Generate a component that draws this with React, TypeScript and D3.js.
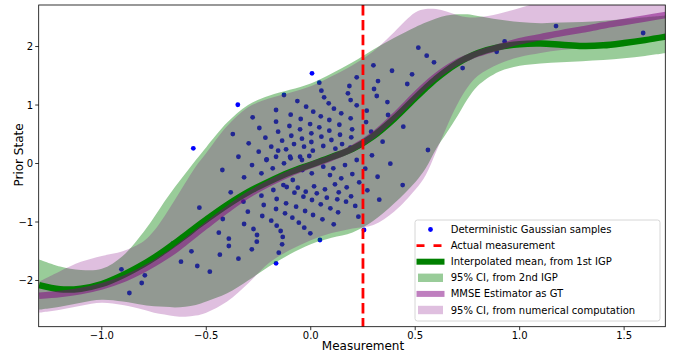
import React from 'react';
import * as d3 from 'd3';

const W = 683;
const H = 354;

const xTicks = [-1.0, -0.5, 0.0, 0.5, 1.0, 1.5];
const yTicks = [-2, -1, 0, 1, 2];
const measurement = 0.25;

const gridX = [-1.3, -1.2, -1.1, -1.0, -0.9, -0.8, -0.75, -0.7, -0.65, -0.6, -0.55, -0.5, -0.4, -0.3, -0.2, -0.1, 0, 0.1, 0.2, 0.3, 0.4, 0.5, 0.55, 0.6, 0.65, 0.7, 0.75, 0.8, 0.9, 1.0, 1.1, 1.2, 1.3, 1.4, 1.5, 1.6, 1.7];

const meanIGP = [-2.08, -2.15, -2.14, -2.06, -1.91, -1.72, -1.61, -1.49, -1.36, -1.23, -1.09, -0.96, -0.71, -0.49, -0.31, -0.15, -0.02, 0.11, 0.25, 0.47, 0.77, 1.12, 1.29, 1.45, 1.59, 1.71, 1.81, 1.89, 1.99, 2.04, 2.05, 2.03, 2.01, 2.02, 2.06, 2.11, 2.17];

const mmse = [-2.26, -2.23, -2.18, -2.10, -1.98, -1.81, -1.71, -1.60, -1.48, -1.34, -1.20, -1.06, -0.79, -0.54, -0.34, -0.17, -0.03, 0.10, 0.26, 0.49, 0.81, 1.17, 1.34, 1.49, 1.62, 1.73, 1.81, 1.88, 1.99, 2.09, 2.16, 2.23, 2.29, 2.36, 2.42, 2.48, 2.54];

const ciIGPHigh = [-1.64, -1.76, -1.82, -1.80, -1.58, -1.17, -0.92, -0.65, -0.40, -0.17, 0.06, 0.28, 0.70, 1.00, 1.16, 1.26, 1.37, 1.54, 1.73, 1.95, 2.15, 2.33, 2.41, 2.48, 2.53, 2.55, 2.55, 2.52, 2.46, 2.42, 2.40, 2.41, 2.42, 2.44, 2.47, 2.50, 2.53];

const ciIGPLow = [-2.50, -2.45, -2.38, -2.33, -2.36, -2.42, -2.44, -2.45, -2.46, -2.45, -2.42, -2.36, -2.22, -2.00, -1.76, -1.55, -1.38, -1.27, -1.18, -0.98, -0.68, -0.32, -0.08, 0.25, 0.52, 0.80, 1.10, 1.33, 1.57, 1.67, 1.71, 1.73, 1.75, 1.77, 1.80, 1.84, 1.89];

const ciNumHigh = [-2.02, -1.84, -1.68, -1.58, -1.50, -1.33, -1.15, -0.90, -0.62, -0.33, -0.05, 0.18, 0.64, 0.96, 1.11, 1.21, 1.32, 1.49, 1.68, 1.92, 2.25, 2.58, 2.64, 2.64, 2.60, 2.54, 2.50, 2.50, 2.56, 2.66, 2.76, 2.84, 2.90, 2.95, 3.00, 3.05, 3.10];

const ciNumLow = [-2.55, -2.50, -2.43, -2.38, -2.42, -2.50, -2.55, -2.58, -2.61, -2.62, -2.60, -2.55, -2.36, -2.05, -1.70, -1.48, -1.31, -1.19, -1.11, -1.05, -0.82, -0.45, -0.20, 0.20, 0.62, 1.00, 1.30, 1.50, 1.70, 1.82, 1.89, 1.94, 1.98, 2.02, 2.05, 2.08, 2.11];

const samples: [number, number][] = [
  [-0.349, 1.005], [-0.562, 0.26], [0.006, 1.542], [-0.278, 0.79], [-0.373, 0.504], [-0.246, 0.607],
  [-0.217, 0.441], [-0.297, 0.345], [-0.189, 0.287], [-0.249, 0.202], [-0.346, 0.116], [-0.211, 0.072],
  [-0.166, 0.915], [-0.166, 0.715], [0.041, 1.382], [0.051, 1.245], [0.064, 1.131], [0.086, 1.029],
  [0.111, 0.937], [0.146, 0.858], [0.191, 0.772], [-0.128, 1.171], [-0.064, 1.068], [-0.022, 0.971],
  [0.012, 0.886], [0.048, 0.806], [0.089, 0.744], [0.137, 0.663], [0.198, 0.585], [-0.096, 0.835],
  [-0.048, 0.761], [-0.003, 0.675], [0.041, 0.619], [0.089, 0.561], [0.14, 0.492], [-0.102, 0.641],
  [-0.051, 0.585], [-0.156, 0.544], [-0.093, 0.475], [-0.042, 0.424], [0.003, 0.516], [0.051, 0.458],
  [0.099, 0.402], [0.15, 0.333], [0.194, 0.448], [0.003, 0.368], [-0.137, 0.39], [-0.118, 0.243],
  [-0.08, 0.333], [-0.032, 0.287], [0.01, 0.219], [0.06, 0.299], [0.118, 0.253], [-0.166, 0.116],
  [-0.099, 0.116], [-0.051, 0.116], [-0.007, 0.128], [-0.156, 0.219], [0.185, 1.325], [0.22, 1.473],
  [0.178, 1.2], [0.191, 1.085], [0.22, 0.995], [0.268, 0.903], [0.265, 0.709], [0.289, 0.544],
  [0.3, 1.679], [0.322, 1.41], [0.303, 1.274], [0.316, 1.154], [0.367, 1.051], [0.37, 0.829],
  [0.389, 1.586], [0.462, 1.359], [0.485, 1.525], [0.515, 1.98], [0.555, 1.843], [0.59, 1.73],
  [0.443, 0.629], [0.561, 0.231], [0.293, 0.14], [0.344, 0.373], [0.381, -0.003], [0.32, -0.226],
  [-0.281, -0.026], [-0.236, -0.168], [-0.319, -0.236], [-0.212, 0.06], [0.19, 0.27],
  [-0.533, -0.755], [-0.423, -0.111], [-0.182, -0.083], [-0.383, -0.493], [-0.322, -0.652], [-0.236, -0.55],
  [-0.225, -0.709], [-0.179, -0.453], [-0.421, -0.949], [-0.301, -0.823], [-0.232, -0.897], [-0.189, -0.977],
  [-0.319, -1.034], [-0.274, -1.12], [-0.257, -1.222], [-0.258, -1.336], [-0.282, -1.467], [-0.346, -1.627],
  [-0.44, -1.183], [-0.392, -1.285], [-0.392, -1.41], [-0.435, -1.559], [-0.659, -1.364], [-0.571, -1.501],
  [-0.621, -1.679], [-0.543, -1.752], [-0.483, -1.85], [-0.906, -1.809], [-0.794, -1.911], [-0.809, -2.043],
  [-0.868, -2.214], [-0.166, -1.706], [0.044, -1.308], [0.255, -1.137], [-0.153, -1.524], [-0.137, -1.382],
  [-0.134, -1.256], [-0.144, -1.154], [-0.163, -1.063], [-0.002, -1.194], [-0.031, -1.097], [-0.057, -1.012],
  [-0.088, -0.926], [-0.123, -0.852], [-0.166, -0.778], [0.11, -1.04], [0.056, -0.954], [0.011, -0.88],
  [-0.027, -0.812], [-0.07, -0.738], [-0.118, -0.681], [-0.163, -0.607], [0.228, -0.909], [0.131, -0.835],
  [0.094, -0.766], [0.048, -0.698], [0.006, -0.624], [-0.035, -0.567], [-0.078, -0.499], [0.213, -0.726],
  [0.169, -0.652], [0.127, -0.612], [0.077, -0.584], [0.029, -0.51], [-0.024, -0.482], [-0.062, -0.413],
  [-0.115, -0.402], [0.193, -0.561], [0.134, -0.493], [0.068, -0.442], [0.016, -0.39], [0.271, -0.459],
  [0.328, -0.618], [0.44, -0.368], [0.261, -0.088], [0.232, -0.322], [0.172, -0.407], [0.116, -0.356],
  [0.199, -0.18], [0.146, -0.254], [0.092, -0.197], [0.164, -0.026], [0.108, -0.083], [0.06, -0.054],
  [0.005, -0.168], [-0.04, -0.111], [-0.086, -0.282], [-0.131, -0.368], [-0.128, 0.003], [-0.096, 0.088],
  [-0.042, 0.06], [0.22, 0.06], [0.727, 1.632], [0.89, 1.911], [0.928, 2.088], [1.174, 2.35], [1.591, 2.231],
];

const legendLabels = [
  'Deterministic Gaussian samples',
  'Actual measurement',
  'Interpolated mean, from 1st IGP',
  '95% CI, from 2nd IGP',
  'MMSE Estimator as GT',
  '95% CI, from numerical computation',
];

const FONT = 'DejaVu Sans, sans-serif';

export default function App() {
  const left = 38.7, right = 665.3, top = 5, bottom = 326.7;
  const x = d3.scaleLinear().domain([-1.302, 1.697]).range([left, right]);
  const y = d3.scaleLinear().domain([-2.79, 2.71]).range([bottom, top]);

  const idx = gridX.map((_, i) => i);
  const curve = d3.curveCatmullRom.alpha(0.5);
  const band = (lo: number[], hi: number[]) =>
    d3.area<number>().x(i => x(gridX[i])).y0(i => y(lo[i])).y1(i => y(hi[i])).curve(curve)(idx) || '';
  const line = (v: number[]) =>
    d3.line<number>().x(i => x(gridX[i])).y(i => y(v[i])).curve(curve)(idx) || '';

  const legX = 415, legY = 220, legW = 245, legH = 101;
  const rowY = (k: number) => 229.5 + k * 16.1;
  const hx0 = 416.5, hx1 = 444.5, tx = 450.7;

  return (
    <svg width={W} height={H} style={{ position: 'absolute', left: 0, top: 0, background: '#fff' }} fontFamily={FONT}>
      <defs>
        <clipPath id="plotclip">
          <rect x={left} y={top} width={right - left} height={bottom - top} />
        </clipPath>
      </defs>
      <rect x={0} y={0} width={W} height={H} fill="#fff" />
      <g clipPath="url(#plotclip)">
        {samples.map(([sx, sy], i) => (
          <circle key={i} cx={x(sx)} cy={y(sy)} r={2.4} fill="#0000ff" />
        ))}
        <path d={band(ciIGPLow, ciIGPHigh)} fill="green" fillOpacity={0.4} />
        <path d={band(ciNumLow, ciNumHigh)} fill="purple" fillOpacity={0.25} />
        <path d={line(meanIGP)} fill="none" stroke="green" strokeWidth={6.5} />
        <path d={line(mmse)} fill="none" stroke="purple" strokeOpacity={0.5} strokeWidth={6.5} />
        <line x1={x(measurement)} x2={x(measurement)} y1={top} y2={bottom} stroke="red" strokeWidth={2.8} strokeDasharray="10.4,4.5" />
      </g>
      {/* axes frame */}
      <rect x={left} y={top} width={right - left} height={bottom - top} fill="none" stroke="#000" strokeWidth={0.8} />
      {xTicks.map(t => (
        <g key={'x' + t}>
          <line x1={x(t)} x2={x(t)} y1={bottom} y2={bottom + 3.5} stroke="#000" strokeWidth={0.8} />
          <text x={x(t)} y={bottom + 12} textAnchor="middle" fontSize={10} fill="#000">
            {t < 0 ? '\u2212' + Math.abs(t).toFixed(1) : t.toFixed(1)}
          </text>
        </g>
      ))}
      {yTicks.map(t => (
        <g key={'y' + t}>
          <line x1={left - 3.5} x2={left} y1={y(t)} y2={y(t)} stroke="#000" strokeWidth={0.8} />
          <text x={left - 5.5} y={y(t)} dy="0.35em" textAnchor="end" fontSize={10} fill="#000">
            {t < 0 ? '\u2212' + Math.abs(t) : String(t)}
          </text>
        </g>
      ))}
      <text x={363} y={350} textAnchor="middle" fontSize={12} fill="#000">Measurement</text>
      <text transform={`translate(23, 155) rotate(-90)`} textAnchor="middle" fontSize={12} fill="#000">Prior State</text>

      {/* legend */}
      <rect x={legX} y={legY} width={legW} height={legH} rx={2.5} fill="#fff" fillOpacity={0.8} stroke="#cccccc" strokeWidth={0.8} />
      <circle cx={(hx0 + hx1) / 2} cy={rowY(0)} r={2.4} fill="#0000ff" />
      <line x1={hx0} x2={hx1} y1={rowY(1)} y2={rowY(1)} stroke="red" strokeWidth={2.8} strokeDasharray="8,9" />
      <line x1={hx0} x2={hx1} y1={rowY(2)} y2={rowY(2)} stroke="green" strokeWidth={6} />
      <rect x={hx0 + 1.5} y={rowY(3) - 4.2} width={hx1 - hx0 - 3} height={8.4} fill="green" fillOpacity={0.4} />
      <line x1={hx0} x2={hx1} y1={rowY(4)} y2={rowY(4)} stroke="purple" strokeOpacity={0.5} strokeWidth={6} />
      <rect x={hx0 + 1.5} y={rowY(5) - 4.2} width={hx1 - hx0 - 3} height={8.4} fill="purple" fillOpacity={0.25} />
      {legendLabels.map((s, k) => (
        <text key={s} x={tx} y={rowY(k)} dy="0.35em" fontSize={10} fill="#000">{s}</text>
      ))}
    </svg>
  );
}
